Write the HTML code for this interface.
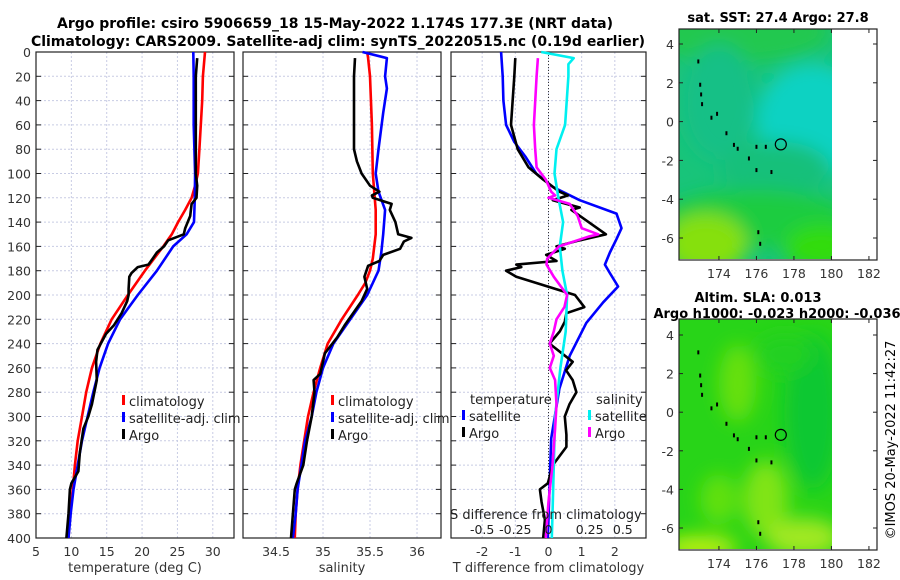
<!DOCTYPE html>
<html><head><meta charset="utf-8"><style>
body{margin:0;background:#fff;}
svg{display:block;font-family:"DejaVu Sans","Liberation Sans",sans-serif;}
</style></head><body>
<svg id="fig" width="900" height="580" viewBox="0 0 900 580" xmlns="http://www.w3.org/2000/svg">
<defs>
<filter id="blur1" x="-20%" y="-20%" width="140%" height="140%"><feGaussianBlur stdDeviation="9"/></filter>
<clipPath id="clipM1"><rect x="679" y="29" width="153" height="230"/></clipPath>
<clipPath id="clipM2"><rect x="679" y="319" width="153" height="230"/></clipPath>
</defs>
<text x="335" y="28" text-anchor="middle" font-size="14" font-weight="bold">Argo profile: csiro 5906659_18 15-May-2022 1.174S 177.3E (NRT data)</text>
<text x="338" y="46" text-anchor="middle" font-size="14" font-weight="bold">Climatology: CARS2009. Satellite-adj clim: synTS_20220515.nc (0.19d earlier)</text>
<g id="panels"></g>
<g id="maps"></g>
<text transform="translate(895,440) rotate(-90)" text-anchor="middle" font-size="13">©IMOS 20-May-2022 11:42:27</text>
</svg>
<script>
// ---------- data ----------
const depthTicks=[0,20,40,60,80,100,120,140,160,180,200,220,240,260,280,300,320,340,360,380,400];
const tTicks=[5,10,15,20,25,30];
const sTicks=[34.5,35,35.5,36];
const dTicks=[-2,-1,0,1,2];
const sDiffTickLabels=["-0.5","-0.25","0","0.25","0.5"];

const tClimDepth=[0,20,40,60,80,100,110,120,130,140,150,160,180,200,220,240,260,280,300,320,340,360,380,400];
const tClim=[28.9,28.6,28.5,28.3,28.1,27.9,27.5,27.0,26.1,25.1,24.2,23.0,20.4,18.0,15.7,14.1,12.9,12.1,11.5,10.9,10.5,10.2,9.8,9.6];
const tSatDepth=[0,20,60,100,120,140,150,160,180,200,220,240,260,280,300,320,340,360,380,400];
const tSat=[27.25,27.3,27.3,27.5,27.45,27.35,26.3,24.4,22.1,19.4,16.9,15.2,14.0,13.1,12.3,11.5,10.9,10.3,9.9,9.6];
const tArgoDepth=[5,20,60,100,110,120,125,135,145,150,155,160,165,170,175,177,182,185,195,200,205,215,225,232,245,255,270,290,300,310,330,345,355,360,380,400];
const tArgo=[27.8,27.6,27.6,27.6,27.8,27.7,27.0,26.8,26.1,25.9,23.7,23.1,22.1,21.5,20.9,19.4,18.5,18.2,18.1,18.1,17.9,17.1,16.0,14.9,13.7,13.5,13.6,12.9,12.4,11.7,11.2,11.0,10.0,9.8,9.6,9.3];

const sClimDepth=[0,5,20,60,100,130,150,170,180,190,200,220,240,260,280,300,320,340,360,380,400];
const sClim=[35.47,35.48,35.5,35.52,35.53,35.56,35.56,35.53,35.5,35.45,35.37,35.2,35.05,34.97,34.9,34.84,34.8,34.76,34.73,34.71,34.70];
const sSatDepth=[0,5,20,30,50,80,100,115,130,150,165,180,200,220,240,260,280,300,320,340,360,380,400];
const sSat=[35.42,35.68,35.66,35.68,35.64,35.59,35.56,35.59,35.66,35.64,35.62,35.59,35.47,35.29,35.11,35.0,34.93,34.88,34.81,34.77,34.73,34.71,34.68];
const sArgoDepth=[5,20,80,90,100,110,115,118,120,125,130,140,150,153,156,162,167,172,176,185,195,205,215,225,235,248,255,265,270,280,300,320,340,355,360,380,400];
const sArgo=[35.34,35.33,35.33,35.36,35.41,35.5,35.6,35.52,35.53,35.73,35.71,35.77,35.8,35.94,35.86,35.82,35.64,35.6,35.48,35.44,35.47,35.41,35.32,35.23,35.15,35.02,35.0,34.97,34.9,34.91,34.88,34.83,34.79,34.72,34.70,34.68,34.66];

const dTSatDepth=[0,20,40,60,74,86,100,111,122,133,145,154,165,175,182,193,206,223,250,277,318,359,384,400];
const dTSat=[-1.43,-1.38,-1.36,-1.28,-1.03,-0.7,-0.37,0.13,0.94,2.05,2.2,2.05,1.85,1.7,1.85,2.1,1.65,1.14,0.64,0.33,0.08,0.03,0.0,-0.02];
const dTArgoDepth=[5,20,60,80,95,105,115,118,122,128,130,150,155,160,162,167,172,175,177,180,185,200,210,215,222,230,240,255,262,270,280,290,300,315,325,340,355,360,370,385,400];
const dTArgo=[-1.0,-1.03,-1.13,-0.93,-0.6,-0.16,0.33,0.59,0.13,0.94,0.69,1.73,0.94,0.24,0.49,-0.07,0.24,-0.97,-0.82,-1.28,-0.97,0.8,1.08,0.54,0.49,0.34,0.03,0.73,0.53,0.73,0.84,0.63,0.49,0.54,0.54,0.13,-0.02,-0.26,-0.21,-0.11,-0.16];
const dSSatDepth=[0,5,10,20,60,80,100,120,140,160,180,200,230,260,300,340,380,400];
const dSSat=[-0.055,0.19,0.15,0.15,0.125,0.06,0.045,0.075,0.11,0.085,0.105,0.14,0.13,0.09,0.05,0.04,0.03,0.025];
const dSArgoDepth=[5,20,60,80,95,105,115,118,120,125,135,145,150,152,160,170,175,185,200,210,220,230,240,250,260,270,290,310,340,370,400];
const dSArgo=[-0.08,-0.09,-0.11,-0.1,-0.09,-0.02,0.02,0.05,0.0,0.16,0.22,0.25,0.375,0.3,0.08,-0.01,-0.015,0.04,0.14,0.12,0.06,0.04,0.01,0.04,0.01,0.05,0.06,0.05,0.03,0.0,-0.02];

// ---------- helpers ----------
const NS="http://www.w3.org/2000/svg";
function mk(tag,attrs,parent){const e=document.createElementNS(NS,tag);for(const k in attrs)e.setAttribute(k,attrs[k]);parent.appendChild(e);return e;}
const PT=52,PB=538;
const yD=d=>PT+(PB-PT)*d/400;
const panels=document.getElementById('panels');
const P1={l:36,r:234,min:5,max:33.0};
const P2={l:243,r:441,min:34.149,max:36.255};
const P3={l:451,r:646,min:-2.94,max:2.94};
const xs=(P,v)=>P.l+(v-P.min)/(P.max-P.min)*(P.r-P.l);

function frame(P,name,ticks,labels,xlabel){
  const g=mk('g',{},panels);
  
  
  depthTicks.forEach(d=>{
    const y=yD(d);
    const gl=mk('line',{x1:P.l,x2:P.r,y1:y,y2:y,stroke:'#c8cce4','stroke-width':1,'stroke-dasharray':'2,2'},g);
    
    
    mk('line',{x1:P.l,x2:P.l+5,y1:y,y2:y,stroke:'#222'},g);
    mk('line',{x1:P.r-5,x2:P.r,y1:y,y2:y,stroke:'#222'},g);
  });
  ticks.forEach((v,i)=>{
    const x=xs(P,v);
    const gl=mk('line',{x1:x,x2:x,y1:PT,y2:PB,stroke:'#c8cce4','stroke-width':1,'stroke-dasharray':'2,2'},g);
    
    
    const t=mk('text',{x:x,y:556,'text-anchor':'middle','font-size':12.5,fill:'#333'},g);
    t.textContent=labels[i];
    
    
  });
  const b=mk('rect',{x:P.l,y:PT,width:P.r-P.l,height:PB-PT,fill:'none',stroke:'#222','stroke-width':1.2},g);
  
  
  const xl=mk('text',{x:(P.l+P.r)/2,y:572,'text-anchor':'middle','font-size':13,fill:'#333'},g);
  xl.textContent=xlabel;
  
  
  return g;
}
function line(P,vals,depths,color,name,scale){
  const pts=vals.map((v,i)=>xs(P,v*(scale||1)).toFixed(1)+','+yD(depths[i]).toFixed(1)).join(' ');
  const pl=mk('polyline',{points:pts,fill:'none',stroke:color,'stroke-width':2.6,'stroke-linejoin':'round'},panels);
  
  
}
function legendEntry(x,y,color,label,name){
  const g=mk('g',{},panels);
  
  
  mk('rect',{x:x,y:y-11,width:3,height:10,fill:color},g);
  const t=mk('text',{x:x+7,y:y,'font-size':13,fill:'#222'},g);
  t.textContent=label;
}

// depth labels
depthTicks.forEach(d=>{
  const t=mk('text',{x:31,y:yD(d)+5,'text-anchor':'end','font-size':12.5,fill:'#333'},panels);
  t.textContent=d;
  
  
});

frame(P1,'temperature-panel',tTicks,tTicks.map(String),'temperature (deg C)');
line(P1,tClim,tClimDepth,'#ff0000','temperature-climatology-line');
line(P1,tSat,tSatDepth,'#0000ff','temperature-satellite-line');
line(P1,tArgo,tArgoDepth,'#000000','temperature-argo-line');
legendEntry(122,406,'#ff0000','climatology','legend-climatology');
legendEntry(122,423,'#0000ff','satellite-adj. clim','legend-satellite-adj');
legendEntry(122,440,'#000000','Argo','legend-argo');

frame(P2,'salinity-panel',sTicks,sTicks.map(String),'salinity');
line(P2,sClim,sClimDepth,'#ff0000','salinity-climatology-line');
line(P2,sSat,sSatDepth,'#0000ff','salinity-satellite-line');
line(P2,sArgo,sArgoDepth,'#000000','salinity-argo-line');
legendEntry(331,406,'#ff0000','climatology','legend-climatology-2');
legendEntry(331,423,'#0000ff','satellite-adj. clim','legend-satellite-adj-2');
legendEntry(331,440,'#000000','Argo','legend-argo-2');

frame(P3,'difference-panel',dTicks,dTicks.map(String),'T difference from climatology');
const zl=mk('line',{x1:xs(P3,0),x2:xs(P3,0),y1:PT,y2:PB,stroke:'#333','stroke-dasharray':'1,2'},panels);


line(P3,dTSat,dTSatDepth,'#0000ff','temperature-diff-satellite-line');
line(P3,dTArgo,dTArgoDepth,'#000000','temperature-diff-argo-line');
line(P3,dSSat,dSSatDepth,'#00f0f0','salinity-diff-satellite-line',4);
line(P3,dSArgo,dSArgoDepth,'#ff00ff','salinity-diff-argo-line',4);
{
  const t=mk('text',{x:470,y:404,'font-size':13,fill:'#222'},panels);t.textContent='temperature';
  
  
  const s=mk('text',{x:596,y:404,'font-size':13,fill:'#222'},panels);s.textContent='salinity';
  
  
}
legendEntry(462,421,'#0000ff','satellite','legend-t-satellite');
legendEntry(462,438,'#000000','Argo','legend-t-argo');
legendEntry(588,421,'#00f0f0','satellite','legend-s-satellite');
legendEntry(588,438,'#ff00ff','Argo','legend-s-argo');
{
  const t=mk('text',{x:450,y:519,'font-size':13,fill:'#222'},panels);t.textContent='S difference from climatology';
  
  
  sDiffTickLabels.forEach((lab,i)=>{
    const v=parseFloat(lab);
    const tx=mk('text',{x:xs(P3,v*4)+(v===0?0:(v>0?8:0)),y:534,'text-anchor':'middle','font-size':12.5,fill:'#222'},panels);
    tx.textContent=lab;
    
    
  });
}

// ---------- maps ----------
const lonTicks=[174,176,178,180,182];
const latTicks=[4,2,0,-2,-4,-6];
const coastLon=[172.9,173.0,173.05,173.1,173.6,173.9,174.4,174.8,175.0,175.6,176.0,176.5,176.0,176.8,176.1,176.2];
const coastLat=[3.1,1.9,1.4,0.9,0.2,0.4,-0.6,-1.2,-1.4,-1.9,-1.3,-1.3,-2.5,-2.6,-5.7,-6.3];
const argoLon=177.3, argoLat=-1.174;
const maps=document.getElementById('maps');
const M={l:679,r:877,lon0:171.87,lon1:182.43};
const mx=lon=>M.l+(lon-M.lon0)/(M.lon1-M.lon0)*(M.r-M.l);
function drawMap(top,bot,lat4y,lat6y,name,title,blobs,base){
  const g=mk('g',{},maps);
  
  
  const my=lat=>lat4y+(4-lat)/10*(lat6y-lat4y);
  const img=mk('g',{'clip-path':'url(#'+(top<300?'clipM1':'clipM2')+')'},g);
  mk('rect',{x:679,y:top,width:153,height:bot-top,fill:base},img);
  const bg=mk('g',{filter:'url(#blur1)'},img);
  blobs.forEach(b=>mk('ellipse',{cx:mx(b[0]),cy:my(b[1]),rx:b[2]*18.75,ry:b[3]*19.3,fill:b[4]},bg));
  coastLon.forEach((lo,i)=>{
    const c=mk('rect',{x:mx(lo)-1,y:my(coastLat[i])-2,width:2,height:4,fill:'#000'},g);
    
    
  });
  const c=mk('circle',{cx:mx(argoLon),cy:my(argoLat),r:5.5,fill:'none',stroke:'#000','stroke-width':1.2},g);
  
  
  mk('rect',{x:M.l,y:top,width:M.r-M.l,height:bot-top,fill:'none',stroke:'#222','stroke-width':1.2},g);
  latTicks.forEach(l=>{
    const y=my(l);
    mk('line',{x1:M.l,x2:M.l+4,y1:y,y2:y,stroke:'#222'},g);
    mk('line',{x1:M.r-4,x2:M.r,y1:y,y2:y,stroke:'#222'},g);
    const t=mk('text',{x:674,y:y+5,'text-anchor':'end','font-size':12.5,fill:'#333'},g);
    t.textContent=l;
    
    
  });
  lonTicks.forEach(l=>{
    const x=mx(l);
    mk('line',{x1:x,x2:x,y1:bot-4,y2:bot,stroke:'#222'},g);
    mk('line',{x1:x,x2:x,y1:top,y2:top+4,stroke:'#222'},g);
    const t=mk('text',{x:x,y:bot+18,'text-anchor':'middle','font-size':12.5,fill:'#333'},g);
    t.textContent=l;
    
    
  });
  title.forEach((s,i)=>{
    const t=mk('text',{x:s[1],y:s[2],'text-anchor':'middle','font-size':13,'font-weight':'bold'},g);
    t.textContent=s[0];
    
    
  });
}
drawMap(29,260,44,238,'sst-map',[['sat. SST: 27.4 Argo: 27.8',778,22]],[
 [175,4.6,5,1.6,'#20c850'],[174,1,2,3,'#14c086'],[179,0,3,3,'#10d2c2'],[177,-2.5,3,1.5,'#14c07a'],
 [176,-5,5,1.5,'#1ccc40'],[173.3,-6.3,2.2,1.6,'#86e010'],[179.5,-6.5,2,1.2,'#30dc10']],'#18c47a');
drawMap(319,550,335,528,'sla-map',[['Altim. SLA: 0.013',758,302],['Argo h1000: -0.023 h2000: -0.036',777,318]],[
 [175,1.5,1,2,'#66e010'],[176.5,-4.5,1.2,2,'#80e418'],[174,-4.5,1,1.3,'#60e010'],[179,0,1.5,4,'#10c830'],
 [178.5,-6.5,2,1,'#a0e820'],[173,-7,2,0.6,'#c0f010'],[177.5,3,1.5,1,'#20d020']],'#28d418');
</script>
</body></html>
